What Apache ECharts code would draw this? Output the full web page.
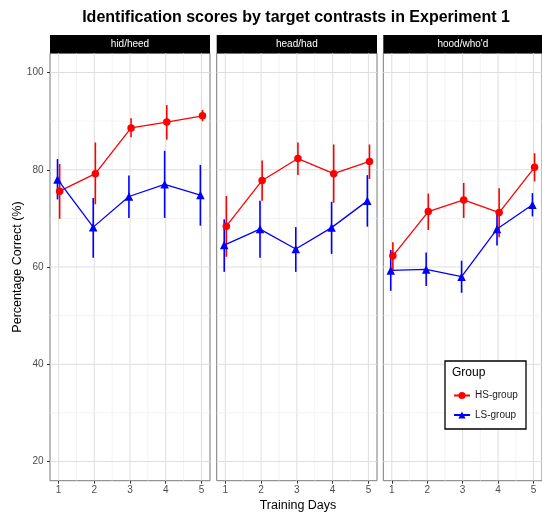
<!DOCTYPE html>
<html><head><meta charset="utf-8">
<script src="https://cdn.jsdelivr.net/npm/echarts@6/dist/echarts.min.js"></script>
<style>html,body{margin:0;padding:0;background:#fff}#c{width:542px;height:513px}</style>
</head><body><div id="c"></div>
<script>
// ---- data ----
const days = [1, 2, 3, 4, 5];
const panels = ['hid/heed', 'head/had', "hood/who'd"];
const hsMean = [[75.6, 79.2, 88.6, 89.8, 91.1], [68.4, 77.8, 82.3, 79.2, 81.7], [62.3, 71.4, 73.8, 71.2, 80.5]];
const hsLow  = [[69.9, 72.9, 86.7, 86.2, 90.0], [62.1, 73.6, 78.9, 73.2, 78.1], [59.4, 67.6, 70.1, 66.1, 77.6]];
const hsHigh = [[81.2, 85.6, 90.6, 93.3, 92.3], [74.6, 81.9, 85.6, 85.2, 85.2], [65.1, 75.1, 77.3, 76.2, 83.4]];
const lsMean = [[78.0, 68.2, 74.5, 77.0, 74.8], [64.5, 67.8, 63.7, 68.1, 73.6], [59.3, 59.5, 58.0, 67.8, 72.8]];
const lsLow  = [[73.9, 61.9, 70.1, 70.1, 68.5], [59.0, 61.9, 59.0, 62.7, 68.3], [55.1, 56.1, 54.7, 64.4, 70.4]];
const lsHigh = [[82.2, 74.2, 78.8, 83.9, 81.0], [69.8, 73.6, 68.2, 73.4, 78.9], [63.5, 63.0, 61.3, 71.2, 75.2]];
const yTicks = [20, 40, 60, 80, 100];
const yMinor = [30, 50, 70, 90];
const xMinor = [1.5, 2.5, 3.5, 4.5];
const groups = ['HS-group', 'LS-group'];

// ---- layout / style ----
const FONT = '"Liberation Sans", Arial, Helvetica, sans-serif';
const gridLeft = [50, 216.7, 383.3];
const gridW = [160, 160.3, 159];
const gridTop = 53.3, gridH = 427.4;
const dodge = [0.03, -0.03];
const colors = ['#ff0000', '#0000ff'];
const symbols = ['circle', 'triangle'];
const symSize = [7.5, 8.5];

const gridData = [];
days.forEach(v => gridData.push([v, 50, 0, 1]));
xMinor.forEach(v => gridData.push([v, 50, 0, 0]));
yTicks.forEach(v => gridData.push([3, v, 1, 1]));
yMinor.forEach(v => gridData.push([3, v, 1, 0]));

const grids = [], xAxes = [], yAxes = [], series = [], graphics = [];
panels.forEach((p, i) => {
  grids.push({left: gridLeft[i], top: gridTop, width: gridW[i], height: gridH, show: true,
    borderColor: '#7a7a7a', borderWidth: 1, backgroundColor: 'transparent'});
  xAxes.push({type: 'value', gridIndex: i, min: 0.76, max: 5.24,
    axisLine: {show: false}, splitLine: {show: false},
    axisTick: {show: true, length: 3, customValues: days, lineStyle: {color: '#333'}},
    axisLabel: {customValues: days, margin: 4.5, fontSize: 10, color: '#4d4d4d', fontFamily: FONT}});
  yAxes.push({type: 'value', gridIndex: i, min: 16.05, max: 103.95,
    axisLine: {show: false}, splitLine: {show: false},
    axisTick: {show: i === 0, length: 3, customValues: yTicks, lineStyle: {color: '#333'}},
    axisLabel: {show: i === 0, customValues: yTicks, margin: 6.5, fontSize: 10, color: '#4d4d4d', fontFamily: FONT}});
  series.push({type: 'custom', xAxisIndex: i, yAxisIndex: i, silent: true, z: 1, data: gridData,
    encode: {x: 0, y: 1},
    renderItem: (params, api) => {
      const cs = params.coordSys;
      const major = api.value(3);
      const style = {stroke: major ? '#dedede' : '#eeeeee', lineWidth: major ? 1 : 0.7};
      if (api.value(2) === 0) {
        const x = api.coord([api.value(0), 50])[0];
        return {type: 'line', shape: {x1: x, y1: cs.y, x2: x, y2: cs.y + cs.height}, style};
      }
      const y = api.coord([3, api.value(1)])[1];
      return {type: 'line', shape: {x1: cs.x, y1: y, x2: cs.x + cs.width, y2: y}, style};
    }});
  const means = [hsMean, lsMean], lows = [hsLow, lsLow], highs = [hsHigh, lsHigh];
  groups.forEach((g, k) => {
    series.push({type: 'line', name: g, xAxisIndex: i, yAxisIndex: i, z: 4,
      data: days.map((d, j) => [d + dodge[k], means[k][i][j]]),
      symbol: symbols[k], symbolSize: symSize[k], showSymbol: true,
      itemStyle: {color: colors[k]}, lineStyle: {color: colors[k], width: 1.3}});
    series.push({type: 'custom', name: g + ' error', xAxisIndex: i, yAxisIndex: i, silent: true, z: 3,
      data: days.map((d, j) => [d + dodge[k], lows[k][i][j], highs[k][i][j]]),
      encode: {x: 0, y: [1, 2]},
      renderItem: (params, api) => {
        const a = api.coord([api.value(0), api.value(1)]);
        const b = api.coord([api.value(0), api.value(2)]);
        return {type: 'line', shape: {x1: a[0], y1: a[1], x2: b[0], y2: b[1]},
          style: {stroke: colors[k], lineWidth: 1.6}};
      }});
  });
  graphics.push({type: 'rect', shape: {x: gridLeft[i], y: 35, width: gridW[i], height: gridTop - 35},
    style: {fill: '#000'}});
  graphics.push({type: 'text', x: gridLeft[i] + gridW[i] / 2, y: 44.3,
    style: {text: p, fill: '#fff', fontSize: 10, fontFamily: FONT, align: 'center', verticalAlign: 'middle'}});
});

graphics.push({type: 'text', x: 296, y: 17.5,
  style: {text: 'Identification scores by target contrasts in Experiment 1', fill: '#000',
    fontSize: 16, fontWeight: 'bold', fontFamily: FONT, align: 'center', verticalAlign: 'middle'}});
graphics.push({type: 'text', x: 298, y: 506,
  style: {text: 'Training Days', fill: '#000', fontSize: 12.5, fontFamily: FONT, align: 'center', verticalAlign: 'middle'}});
graphics.push({type: 'text', x: 18, y: 267, rotation: Math.PI / 2,
  style: {text: 'Percentage Correct (%)', fill: '#000', fontSize: 12.5, fontFamily: FONT, align: 'center', verticalAlign: 'middle'}});
graphics.push({type: 'rect', z: 10, shape: {x: 445, y: 361, width: 81, height: 68},
  style: {fill: '#fff', stroke: '#000', lineWidth: 1.3}});
graphics.push({type: 'text', z: 11, x: 452, y: 373,
  style: {text: 'Group', fill: '#000', fontSize: 12, fontFamily: FONT, align: 'left', verticalAlign: 'middle'}});

const option = {
  animation: false,
  backgroundColor: '#fff',
  grid: grids, xAxis: xAxes, yAxis: yAxes, series,
  legend: {data: groups, orient: 'vertical', left: 453, top: 390.5, padding: 0, z: 12,
    itemWidth: 16, itemHeight: 9, itemGap: 9.5, selectedMode: false,
    textStyle: {fontSize: 10, color: '#1a1a1a', fontFamily: FONT, lineHeight: 10}},
  graphic: graphics
};
const chart = echarts.init(document.getElementById('c'), null, {renderer: 'canvas'});
chart.setOption(option);
</script></body></html>
